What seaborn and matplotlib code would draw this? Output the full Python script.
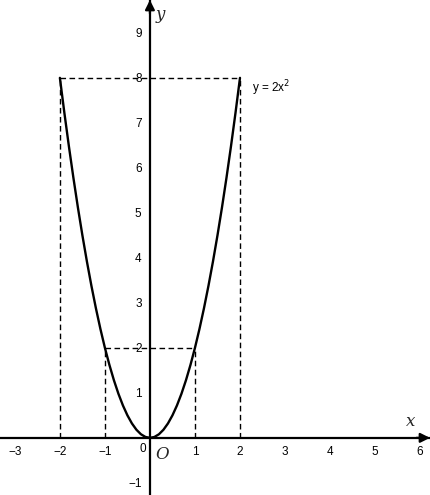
import numpy as np
import pandas as pd
import matplotlib
matplotlib.use("Agg")
import matplotlib.pyplot as plt
import seaborn as sns

xs = [-2.0, -1.9, -1.8, -1.7, -1.6, -1.5, -1.4, -1.3, -1.2, -1.1, -1.0,
      -0.9, -0.8, -0.7, -0.6, -0.5, -0.4, -0.3, -0.2, -0.1, 0.0,
      0.1, 0.2, 0.3, 0.4, 0.5, 0.6, 0.7, 0.8, 0.9, 1.0,
      1.1, 1.2, 1.3, 1.4, 1.5, 1.6, 1.7, 1.8, 1.9, 2.0]
ys = [8.0, 7.22, 6.48, 5.78, 5.12, 4.5, 3.92, 3.38, 2.88, 2.42, 2.0,
      1.62, 1.28, 0.98, 0.72, 0.5, 0.32, 0.18, 0.08, 0.02, 0.0,
      0.02, 0.08, 0.18, 0.32, 0.5, 0.72, 0.98, 1.28, 1.62, 2.0,
      2.42, 2.88, 3.38, 3.92, 4.5, 5.12, 5.78, 6.48, 7.22, 8.0]
x_ticks = [-3, -2, -1, 1, 2, 3, 4, 5, 6]
y_ticks = [-1, 1, 2, 3, 4, 5, 6, 7, 8, 9]
guide_pts = [(-2, 8), (2, 8), (-1, 2), (1, 2)]
curve_label = "y = 2x$^2$"

sns.set_style("white")
plt.rcParams['font.family'] = ['Liberation Sans', 'DejaVu Sans']
plt.rcParams['axes.unicode_minus'] = True

fig = plt.figure(figsize=(4.3, 4.95), dpi=100)
ax = fig.add_axes([0, 0, 1, 1])
xmin, xmax = -3.33, 6.22
ymin, ymax = -1.27, 9.73
ax.set_xlim(xmin, xmax)
ax.set_ylim(ymin, ymax)

df = pd.DataFrame({"x": xs, "y": ys})
sns.lineplot(data=df, x="x", y="y", ax=ax, color="black", lw=1.7, sort=False)
ax.set_xlabel("")
ax.set_ylabel("")

# dashed guides
dash = (0, (4, 2.5))
for gx, gy in guide_pts:
    ax.plot([0 if gx > 0 else gx, gx if gx > 0 else 0], [gy, gy],
            ls=dash, color="black", lw=1.0)
    ax.plot([gx, gx], [0, gy], ls=dash, color="black", lw=1.0)

# axes
for s in ["top", "right"]:
    ax.spines[s].set_visible(False)
ax.spines["left"].set_position(("data", 0))
ax.spines["bottom"].set_position(("data", 0))
for s in ["left", "bottom"]:
    ax.spines[s].set_linewidth(1.6)
    ax.spines[s].set_color("black")
ax.annotate("", xy=(xmax, 0), xytext=(xmax - 0.3, 0),
            arrowprops=dict(arrowstyle="-|>", color="black", lw=1.6,
                            mutation_scale=14, shrinkA=0, shrinkB=0))
ax.annotate("", xy=(0, ymax), xytext=(0, ymax - 0.3),
            arrowprops=dict(arrowstyle="-|>", color="black", lw=1.6,
                            mutation_scale=14, shrinkA=0, shrinkB=0))

ax.set_xticks(x_ticks)
ax.set_xticklabels([f"\u2212{abs(t)}" if t < 0 else str(t) for t in x_ticks])
ax.set_yticks(y_ticks)
ax.set_yticklabels([f"\u2212{abs(t)}" if t < 0 else str(t) for t in y_ticks])
ax.tick_params(axis="both", labelsize=8.5, length=2, width=0.8, color="black",
               labelcolor="black", direction="out", pad=4)
ax.text(-0.08, -0.12, "0", fontsize=8.5, ha="right", va="top", color="black")

serif = dict(family=["DejaVu Serif"], style="italic", fontsize=12)
ax.text(5.78, 0.36, "x", ha="center", va="center", **serif)
ax.text(0.22, 9.4, "y", ha="center", va="center", **serif)
ax.text(0.27, -0.38, "O", ha="center", va="center", **serif)
ax.text(2.27, 7.78, curve_label, fontsize=8.5, ha="left", va="center",
        color="black")

fig.savefig("out.png", dpi=100)
